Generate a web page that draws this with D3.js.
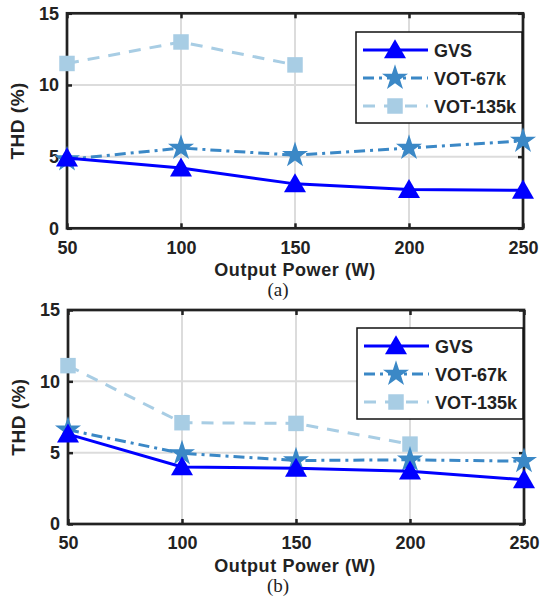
<!DOCTYPE html>
<html>
<head>
<meta charset="utf-8">
<script src="https://cdn.jsdelivr.net/npm/d3@7"></script>
<style>
  body { margin: 0; background: #fff; }
  svg { display: block; }
  text { font-family: "Liberation Sans", Arial, sans-serif; font-weight: bold; fill: #222; }
</style>
</head>
<body>
<div id="chart"></div>
<script>
// data
const power = [50, 100, 150, 200, 250];
const yTicks = [0, 5, 10, 15];
const seriesNames = ['GVS', 'VOT-67k', 'VOT-135k'];

// panel (a)
const gvsA = [4.9, 4.2, 3.1, 2.7, 2.65];
const vot67A = [4.8, 5.6, 5.1, 5.6, 6.1];
const vot135A = [11.5, 13.0, 11.4, null, null];

// panel (b)
const gvsB = [6.3, 4.0, 3.9, 3.7, 3.1];
const vot67B = [6.6, 4.95, 4.45, 4.5, 4.4];
const vot135B = [11.1, 7.1, 7.05, 5.6, null];

const styles = {
  'GVS': { color: '#0000ff', dash: null, marker: d3.symbolTriangle, size: 210 },
  'VOT-67k': { color: '#3b88c6', dash: '11,5,3,5', marker: d3.symbolStar, size: 210 },
  'VOT-135k': { color: '#a8cde4', dash: '12,9', marker: d3.symbolSquare, size: 240 }
};

const width = 549, height = 598;
const svg = d3.select('#chart').append('svg')
  .attr('width', width)
  .attr('height', height);

function drawPanel(opts) {
  const x = d3.scaleLinear().domain([50, 250]).range([opts.left, opts.right]);
  const y = d3.scaleLinear().domain([0, 15]).range([opts.bottom, opts.top]);
  const g = svg.append('g');

  // grid
  g.selectAll('.vgrid').data(power.slice(1, -1)).enter().append('line')
    .attr('x1', d => x(d)).attr('x2', d => x(d))
    .attr('y1', opts.top).attr('y2', opts.bottom)
    .attr('stroke', '#dcdcdc').attr('stroke-width', 2);
  g.selectAll('.hgrid').data(yTicks.slice(1, -1)).enter().append('line')
    .attr('x1', opts.left).attr('x2', opts.right)
    .attr('y1', d => y(d)).attr('y2', d => y(d))
    .attr('stroke', '#dcdcdc').attr('stroke-width', 2);

  // axes with inward ticks
  const xb = g.append('g').attr('transform', `translate(0,${opts.bottom})`)
    .call(d3.axisBottom(x).tickValues(power).tickSizeInner(-5).tickSizeOuter(0).tickPadding(10));
  const xt = g.append('g').attr('transform', `translate(0,${opts.top})`)
    .call(d3.axisTop(x).tickValues(power).tickSizeInner(-5).tickSizeOuter(0).tickFormat(''));
  const yl = g.append('g').attr('transform', `translate(${opts.left},0)`)
    .call(d3.axisLeft(y).tickValues(yTicks).tickSizeInner(-5).tickSizeOuter(0).tickPadding(8));
  const yr = g.append('g').attr('transform', `translate(${opts.right},0)`)
    .call(d3.axisRight(y).tickValues(yTicks).tickSizeInner(-5).tickSizeOuter(0).tickFormat(''));
  [xb, xt, yl, yr].forEach(a => {
    a.select('.domain').remove();
    a.selectAll('line').attr('stroke', '#222').attr('stroke-width', 2.5);
    a.selectAll('text').style('font-size', '18px').attr('fill', '#222')
      .style('font-family', '"Liberation Sans", Arial, sans-serif').style('font-weight', 'bold');
  });
  xb.selectAll('text').attr('dy', '0.85em');

  g.append('rect')
    .attr('x', opts.left).attr('y', opts.top)
    .attr('width', opts.right - opts.left).attr('height', opts.bottom - opts.top)
    .attr('fill', 'none').attr('stroke', '#222').attr('stroke-width', 2.7);

  // series, GVS last so it sits on top
  const order = ['VOT-135k', 'VOT-67k', 'GVS'];
  order.forEach(name => {
    const vals = opts.data[name];
    const pts = power.map((p, i) => ({ p, v: vals[i] })).filter(d => d.v != null);
    const st = styles[name];
    g.append('path')
      .datum(pts)
      .attr('fill', 'none')
      .attr('stroke', st.color)
      .attr('stroke-width', 3)
      .attr('stroke-dasharray', st.dash)
      .attr('d', d3.line().x(d => x(d.p)).y(d => y(d.v)));
    g.selectAll(null).data(pts).enter().append('path')
      .attr('d', d3.symbol().type(st.marker).size(st.size))
      .attr('transform', d => `translate(${x(d.p)},${y(d.v) + (name === 'GVS' ? 2 : 0)})`)
      .attr('fill', st.color);
  });

  // legend
  const lg = g.append('g');
  lg.append('rect')
    .attr('x', opts.legX).attr('y', opts.legY)
    .attr('width', 166).attr('height', 91)
    .attr('fill', '#fff').attr('stroke', '#111').attr('stroke-width', 1.5);
  seriesNames.forEach((name, i) => {
    const st = styles[name];
    const cy = opts.legY + 18 + i * 28;
    lg.append('line')
      .attr('x1', opts.legX + 7).attr('x2', opts.legX + 72)
      .attr('y1', cy).attr('y2', cy)
      .attr('stroke', st.color).attr('stroke-width', 3)
      .attr('stroke-dasharray', st.dash);
    lg.append('path')
      .attr('d', d3.symbol().type(st.marker).size(st.size))
      .attr('transform', `translate(${opts.legX + 39},${cy + (name === 'GVS' ? 2 : 0)})`)
      .attr('fill', st.color);
    lg.append('text')
      .attr('x', opts.legX + 78).attr('y', cy + 6.5)
      .style('font-size', '18px')
      .text(name);
  });

  // axis titles
  g.append('text')
    .attr('transform', `translate(${opts.left - 43},${(opts.top + opts.bottom) / 2}) rotate(-90)`)
    .attr('text-anchor', 'middle')
    .style('font-size', '19px')
    .style('letter-spacing', '0.5px')
    .text('THD (%)');
  g.append('text')
    .attr('x', 295).attr('y', opts.bottom + 48)
    .attr('text-anchor', 'middle')
    .style('font-size', '18px')
    .style('letter-spacing', '0.6px')
    .text('Output Power (W)');
  g.append('text')
    .attr('x', 278).attr('y', opts.bottom + 68)
    .attr('text-anchor', 'middle')
    .style('font-family', '"Liberation Serif", "Times New Roman", serif')
    .style('font-weight', 'normal')
    .style('font-size', '19px')
    .text(opts.label);
}

drawPanel({
  left: 67, right: 523, top: 13.3, bottom: 228.3,
  legX: 356, legY: 32,
  label: '(a)',
  data: { 'GVS': gvsA, 'VOT-67k': vot67A, 'VOT-135k': vot135A }
});

drawPanel({
  left: 68, right: 524, top: 310, bottom: 524,
  legX: 357, legY: 328,
  label: '(b)',
  data: { 'GVS': gvsB, 'VOT-67k': vot67B, 'VOT-135k': vot135B }
});
</script>
</body>
</html>
